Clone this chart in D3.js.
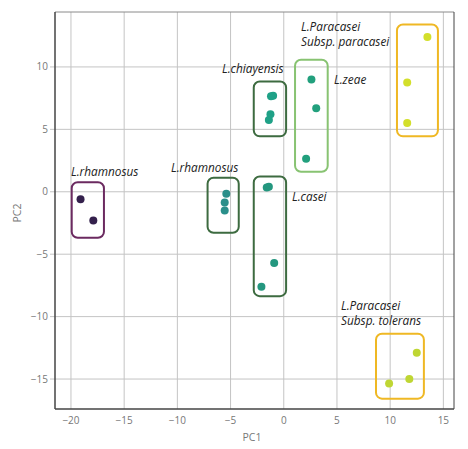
<!DOCTYPE html>
<html>
<head>
<meta charset="utf-8">
<script src="https://cdn.jsdelivr.net/npm/d3@7"></script>
<style>
body { margin: 0; background: #fff; }
svg { display: block; }
</style>
</head>
<body>
<svg id="ChartSvg" width="468" height="449"></svg>
<script>
// PCA scores, one list per group
var GroupNames = ["rham1","rham2","chiay","zeae","casei","paracasei","tolerans"];
var PC1Values = {
	rham1: [-19.1, -17.9],
	rham2: [-5.4, -5.55, -5.55],
	chiay: [-1.0, -1.2, -1.25, -1.4],
	zeae: [2.6, 3.05, 2.1],
	casei: [-1.6, -1.4, -0.9, -2.1],
	paracasei: [13.5, 11.6, 11.6],
	tolerans: [12.5, 11.8, 9.9]
};
var PC2Values = {
	rham1: [-0.6, -2.3],
	rham2: [-0.15, -0.85, -1.5],
	chiay: [7.7, 7.65, 6.2, 5.75],
	zeae: [9.0, 6.7, 2.65],
	casei: [0.35, 0.4, -5.7, -7.6],
	paracasei: [12.4, 8.75, 5.5],
	tolerans: [-12.9, -15.0, -15.35]
};
var PointColours = ["#34204c","#2a8f8a","#1fa187","#22a07d","#24977f","#d3df2b","#bfd633"];

// group boxes in data units: x0, x1, top, bottom
var BoxExtents = [
	[-19.93, -16.9, 0.77, -3.68],
	[-7.16, -4.23, 1.12, -3.28],
	[-2.82, 0.22, 8.83, 4.44],
	[1.06, 4.13, 10.57, 1.6],
	[-2.82, 0.22, 1.22, -8.36],
	[10.64, 14.49, 13.4, 4.44],
	[8.67, 13.17, -11.37, -16.57]
];
var BoxColours = ["#6b2a60","#3d6b40","#3d6b40","#88c372","#3d6b40","#efb824","#efb824"];

// labels: lines, pixel anchor (left, first baseline)
var LabelLines = [
	["L.rhamnosus"],
	["L.rhamnosus"],
	["L.chiayensis"],
	["L.zeae"],
	["L.casei"],
	["L.Paracasei","Subsp. paracasei"],
	["L.Paracasei","Subsp. tolerans"]
];
var LabelPos = [[71,176],[171,172],[222,73],[334,84],[292,201],[301,31],[341,310]];

var XTicks = [-20,-15,-10,-5,0,5,10,15];
var YTicks = [-15,-10,-5,0,5,10];

var Svg = d3.select("#ChartSvg");
var Left = 55, Right = 454, Top = 12, Bottom = 409;

var X = d3.scaleLinear().domain([-21.5, 16]).range([Left, Right]);
var Y = d3.scaleLinear().domain([-17.4, 14.4]).range([Bottom, Top]);

// grid
Svg.append("g").selectAll("line").data(XTicks).enter().append("line")
	.attr("x1", function(d){ return X(d); }).attr("x2", function(d){ return X(d); })
	.attr("y1", Top).attr("y2", Bottom)
	.style("stroke","#c4c4c4").style("stroke-width",1);
Svg.append("g").selectAll("line").data(YTicks).enter().append("line")
	.attr("x1", Left - 5).attr("x2", Right)
	.attr("y1", function(d){ return Y(d); }).attr("y2", function(d){ return Y(d); })
	.style("stroke","#c4c4c4").style("stroke-width",1);

// frame
Svg.append("line").attr("x1",Left).attr("x2",Right).attr("y1",Top).attr("y2",Top).style("stroke","#8a8a8a");
Svg.append("line").attr("x1",Right).attr("x2",Right).attr("y1",Top).attr("y2",Bottom).style("stroke","#444");
Svg.append("line").attr("x1",Left).attr("x2",Left).attr("y1",Top).attr("y2",Bottom).style("stroke","#444").style("stroke-width",1.5);
Svg.append("line").attr("x1",Left).attr("x2",Right).attr("y1",Bottom).attr("y2",Bottom).style("stroke","#444").style("stroke-width",1.5);

// tick labels
var Fmt = function(d){ return d < 0 ? "\u2212" + Math.abs(d) : String(d); };
Svg.append("g").selectAll("text").data(XTicks).enter().append("text")
	.attr("x", function(d){ return X(d); }).attr("y", Bottom + 15)
	.attr("text-anchor","middle")
	.style("font-family","'Open Sans', sans-serif").style("font-size","10px").style("fill","#777")
	.text(Fmt);
Svg.append("g").selectAll("text").data(YTicks).enter().append("text")
	.attr("x", Left - 7).attr("y", function(d){ return Y(d) + 3.5; })
	.attr("text-anchor","end")
	.style("font-family","'Open Sans', sans-serif").style("font-size","10px").style("fill","#777")
	.text(Fmt);

Svg.append("text").attr("x", 252).attr("y", 441).attr("text-anchor","middle")
	.style("font-family","'Open Sans', sans-serif").style("font-size","10.5px").style("fill","#777")
	.text("PC1");
Svg.append("text").attr("transform","translate(21,213) rotate(-90)").attr("text-anchor","middle")
	.style("font-family","'Open Sans', sans-serif").style("font-size","10.5px").style("fill","#777")
	.text("PC2");

// boxes
Svg.append("g").selectAll("rect").data(BoxExtents).enter().append("rect")
	.attr("x", function(d){ return X(d[0]); })
	.attr("y", function(d){ return Y(d[2]); })
	.attr("width", function(d){ return X(d[1]) - X(d[0]); })
	.attr("height", function(d){ return Y(d[3]) - Y(d[2]); })
	.attr("rx", 6).attr("ry", 6)
	.style("fill","none")
	.style("stroke-width",2)
	.style("stroke", function(d,i){ return BoxColours[i]; });

// points
GroupNames.forEach(function(g, gi)
{
	var Pts = PC1Values[g].map(function(v,k){ return [v, PC2Values[g][k]]; });
	Svg.append("g").selectAll("circle").data(Pts).enter().append("circle")
		.attr("cx", function(d){ return X(d[0]); })
		.attr("cy", function(d){ return Y(d[1]); })
		.attr("r", 4)
		.style("fill", PointColours[gi]);
});

// labels, one text element per line
LabelLines.forEach(function(lines, i)
{
	lines.forEach(function(s, k)
	{
		Svg.append("text")
			.attr("x", LabelPos[i][0]).attr("y", LabelPos[i][1] + k * 14.5)
			.style("font-family","'Open Sans', sans-serif").style("font-size","11.8px")
			.style("font-style","italic").style("fill","#222")
			.text(s);
	});
});
</script>
</body>
</html>
